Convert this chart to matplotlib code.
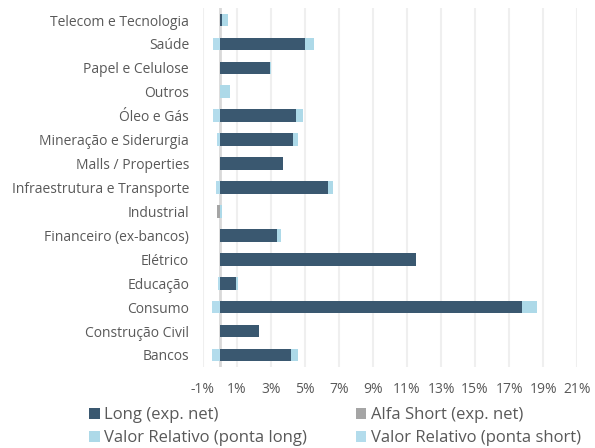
import numpy as np
import matplotlib.pyplot as plt
from matplotlib.patches import Patch

setores = ['Bancos', 'Construção Civil', 'Consumo', 'Educação', 'Elétrico',
           'Financeiro (ex-bancos)', 'Industrial', 'Infraestrutura e Transporte',
           'Malls / Properties', 'Mineração e Siderurgia', 'Óleo e Gás', 'Outros',
           'Papel e Celulose', 'Saúde', 'Telecom e Tecnologia']

# exposições em %
long_net = [4.18, 2.29, 17.77, 0.94, 11.5, 3.35, 0.0, 6.37, 3.7, 4.31, 4.47, 0.0, 2.94, 5.0, 0.14]
alfa_short = [0, 0, 0, 0, 0, 0, -0.18, 0, 0, 0, 0, 0, 0, 0, 0]
vr_long = [0.41, 0, 0.87, 0.12, 0.05, 0.24, 0.12, 0.27, 0, 0.27, 0.41, 0.59, 0.05, 0.53, 0.33]
vr_short = [-0.45, 0, -0.47, -0.12, 0, 0, 0, -0.24, 0, -0.18, -0.41, 0, 0, -0.41, 0]

series = [('Long (exp. net)', long_net, '#3a5870'),
          ('Alfa Short (exp. net)', alfa_short, '#a5a5a5'),
          ('Valor Relativo (ponta long)', vr_long, '#add9e8'),
          ('Valor Relativo (ponta short)', vr_short, '#b3dcec')]

txt = '#595959'
plt.rcParams['font.family'] = ['Open Sans', 'DejaVu Sans']

fig = plt.figure(figsize=(5.95, 4.48), dpi=100)
ax = fig.add_axes([0.341, 0.181, 0.629, 0.801])

y = np.arange(len(setores))
pos = np.zeros(len(setores))
neg = np.zeros(len(setores))
for nome, vals, cor in series:
    v = np.array(vals, dtype=float)
    left = np.where(v >= 0, pos, neg)
    ax.barh(y, v, left=left, height=0.53, color=cor, zorder=3)
    pos += np.where(v >= 0, v, 0)
    neg += np.where(v < 0, v, 0)

ax.set_xlim(-1, 21)
ax.set_ylim(-0.5, len(setores) - 0.5)
ticks = np.arange(-1, 22, 2)
ax.set_xticks(ticks)
ax.set_xticklabels(['%d%%' % t for t in ticks])
ax.set_yticks(y)
ax.set_yticklabels(setores)
ax.tick_params(axis='both', length=0, colors=txt, labelsize=10)
ax.tick_params(axis='x', pad=11)
ax.tick_params(axis='y', pad=10)
ax.grid(axis='x', color='#efefef', linewidth=1.5, zorder=0)
ax.axvline(0, color='#d9d9d9', linewidth=2, zorder=2)
for s in ax.spines.values():
    s.set_visible(False)

# ordem para preencher linha a linha (matplotlib preenche por coluna)
h = [Patch(facecolor=c, label=n) for n, _, c in series]
handles = [h[0], h[2], h[1], h[3]]
fig.legend(handles=handles, ncol=2, loc='lower left', bbox_to_anchor=(0.125, -0.03),
           frameon=False, fontsize=12, labelcolor=txt, handlelength=0.65,
           handleheight=0.65, handletextpad=0.25, columnspacing=2.9, labelspacing=0.42)

fig.savefig('out.png', dpi=100)
